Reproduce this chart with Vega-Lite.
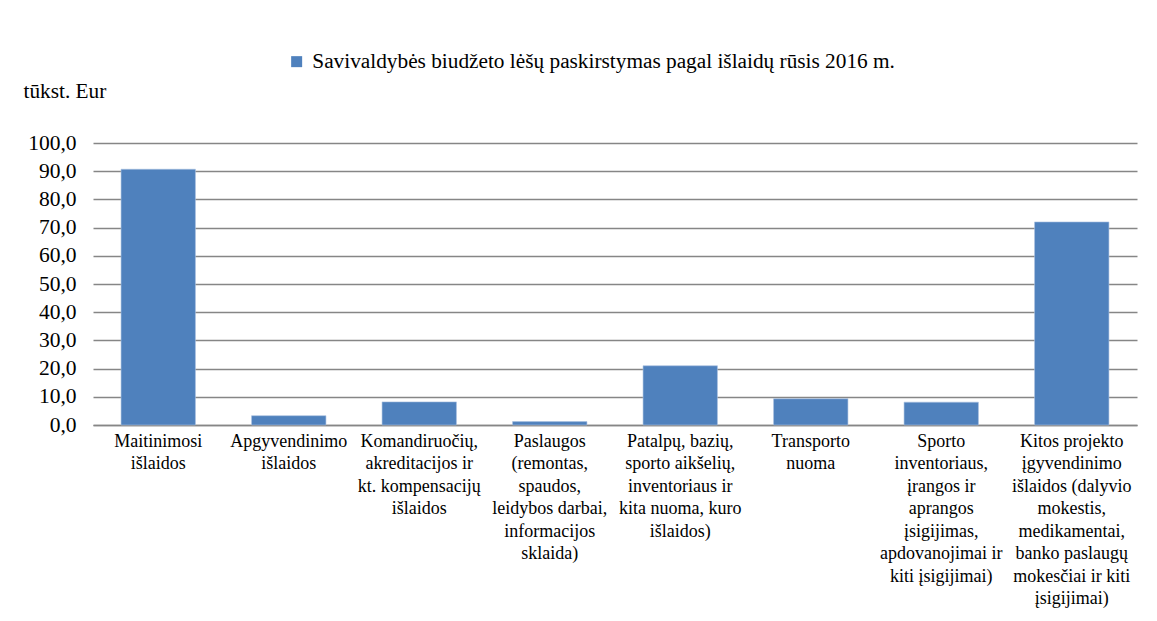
{
  "$schema": "https://vega.github.io/schema/vega-lite/v6.json",
  "autosize": {"type": "none"},
  "width": 1044,
  "height": 282,
  "padding": {"left": 93, "top": 143, "right": 20, "bottom": 196},
  "background": "white",
  "data": {"values": [
    {"cat": "Maitinimosi|išlaidos", "v": 90.7, "s": "Savivaldybės biudžeto lėšų paskirstymas pagal išlaidų rūsis 2016 m."},
    {"cat": "Apgyvendinimo|išlaidos", "v": 3.3, "s": "Savivaldybės biudžeto lėšų paskirstymas pagal išlaidų rūsis 2016 m."},
    {"cat": "Komandiruočių,|akreditacijos ir|kt. kompensacijų|išlaidos", "v": 8.2, "s": "Savivaldybės biudžeto lėšų paskirstymas pagal išlaidų rūsis 2016 m."},
    {"cat": "Paslaugos|(remontas,|spaudos,|leidybos darbai,|informacijos|sklaida)", "v": 1.2, "s": "Savivaldybės biudžeto lėšų paskirstymas pagal išlaidų rūsis 2016 m."},
    {"cat": "Patalpų, bazių,|sporto aikšelių,|inventoriaus ir|kita nuoma, kuro|išlaidos)", "v": 21.0, "s": "Savivaldybės biudžeto lėšų paskirstymas pagal išlaidų rūsis 2016 m."},
    {"cat": "Transporto|nuoma", "v": 9.3, "s": "Savivaldybės biudžeto lėšų paskirstymas pagal išlaidų rūsis 2016 m."},
    {"cat": "Sporto|inventoriaus,|įrangos ir|aprangos|įsigijimas,|apdovanojimai ir|kiti įsigijimai)", "v": 8.1, "s": "Savivaldybės biudžeto lėšų paskirstymas pagal išlaidų rūsis 2016 m."},
    {"cat": "Kitos projekto|įgyvendinimo|išlaidos (dalyvio|mokestis,|medikamentai,|banko paslaugų|mokesčiai ir kiti|įsigijimai)", "v": 72.0, "s": "Savivaldybės biudžeto lėšų paskirstymas pagal išlaidų rūsis 2016 m."}
  ]},
  "mark": {"type": "bar", "stroke": "#a9c1e0", "strokeWidth": 0.6},
  "encoding": {
    "x": {
      "field": "cat", "type": "nominal", "sort": null,
      "scale": {"paddingInner": 0.43, "paddingOuter": 0.215},
      "axis": {
        "title": null, "labelAngle": 0, "labelExpr": "split(datum.label, '|')",
        "labelFont": "Liberation Serif, Times New Roman, serif", "labelFontSize": 18, "labelColor": "black",
        "labelLineHeight": 22.5, "labelPadding": 7, "ticks": false,
        "domainColor": "#868686", "domainWidth": 1.5, "labelLimit": 250
      }
    },
    "y": {
      "field": "v", "type": "quantitative",
      "scale": {"domain": [0, 100]},
      "axis": {
        "values": [0, 10, 20, 30, 40, 50, 60, 70, 80, 90, 100],
        "labelExpr": "replace(format(datum.value, '.1f'), '.', ',')",
        "labelFont": "Liberation Serif, Times New Roman, serif", "labelFontSize": 21.5, "labelColor": "black",
        "labelPadding": 17, "ticks": false, "domain": false,
        "gridColor": "#868686", "gridWidth": 1.5,
        "title": "tūkst. Eur", "titleAngle": 0, "titleAlign": "left", "titleBaseline": "alphabetic",
        "titleX": -70, "titleY": -46, "titleFont": "Liberation Serif, Times New Roman, serif", "titleFontSize": 21.3,
        "titleFontWeight": "normal", "titleColor": "black"
      }
    },
    "color": {
      "field": "s", "type": "nominal",
      "scale": {"range": ["#4F81BD"]},
      "legend": {
        "title": null, "orient": "none", "legendX": 193, "legendY": -92,
        "labelFont": "Liberation Serif, Times New Roman, serif", "labelFontSize": 21.3, "labelColor": "black",
        "symbolType": "square", "symbolSize": 121, "labelLimit": 900, "symbolStrokeWidth": 0, "labelOffset": 5
      }
    }
  },
  "config": {"view": {"stroke": null}}
}
